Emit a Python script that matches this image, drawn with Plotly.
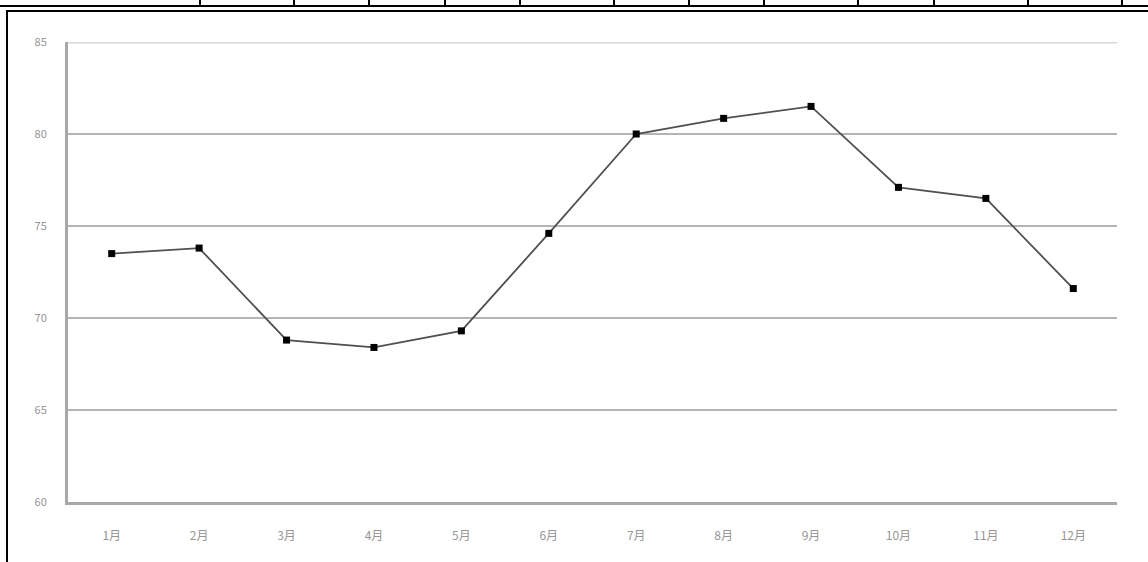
import plotly.graph_objects as go

# Monthly series
months = ["1月", "2月", "3月", "4月", "5月", "6月", "7月", "8月", "9月", "10月", "11月", "12月"]
values = [73.5, 73.8, 68.8, 68.4, 69.3, 74.6, 80.0, 80.85, 81.5, 77.1, 76.5, 71.6]
y_ticks = [60, 65, 70, 75, 80, 85]

W, H = 1148, 562
L, R, T, B = 68, 31, 42, 60
PW, PH = W - L - R, H - T - B


def px(x):
    return (x - L) / PW


def py(y):
    return (H - B - y) / PH


fig = go.Figure()
fig.add_trace(go.Scatter(
    x=months, y=values, mode="lines+markers",
    line=dict(color="#505050", width=1.8),
    marker=dict(symbol="square", size=7, color="#000000"),
    hoverinfo="x+y", showlegend=False,
))

shapes = []
# lighter top gridline
shapes.append(dict(type="line", xref="x domain", yref="y", x0=0, x1=1, y0=85, y1=85,
                   line=dict(color="#d8d8d8", width=3), layer="above"))
# page frame: double rule at top, rule at left, table cell dividers above
shapes.append(dict(type="line", xref="paper", yref="paper", x0=px(0), x1=px(W), y0=py(6), y1=py(6),
                   line=dict(color="#000", width=2)))
shapes.append(dict(type="line", xref="paper", yref="paper", x0=px(7), x1=px(W), y0=py(11), y1=py(11),
                   line=dict(color="#000", width=2)))
shapes.append(dict(type="line", xref="paper", yref="paper", x0=px(7), x1=px(7), y0=py(10), y1=py(H),
                   line=dict(color="#000", width=2)))
for cx in [200, 294, 369, 445, 520, 614, 689, 764, 858, 934, 1028, 1122]:
    shapes.append(dict(type="line", xref="paper", yref="paper", x0=px(cx), x1=px(cx), y0=py(0), y1=py(6),
                       line=dict(color="#000", width=2)))

fig.update_layout(
    width=W, height=H,
    margin=dict(l=L, r=R, t=T, b=B),
    paper_bgcolor="white", plot_bgcolor="white",
    font=dict(family="Noto Sans CJK SC, DejaVu Sans, sans-serif", size=12, color="#959595"),
    shapes=shapes,
    xaxis=dict(
        type="category", categoryorder="array", categoryarray=months,
        range=[-0.5, len(months) - 0.5],
        showgrid=False, showline=True, linecolor="#a8a8a8", linewidth=3,
        ticks="", ticklabelstandoff=21, tickfont=dict(size=12, color="#959595"),
        zeroline=False, fixedrange=True,
    ),
    yaxis=dict(
        range=[60, 85], tickmode="array", tickvals=y_ticks,
        ticktext=[str(v) for v in y_ticks],
        showgrid=True, gridcolor="#b4b4b4", gridwidth=2,
        showline=True, linecolor="#a8a8a8", linewidth=3,
        ticks="", ticklabelstandoff=16, tickfont=dict(size=11, color="#959595"),
        zeroline=False, fixedrange=True,
    ),
)

fig.write_html("out.html")
